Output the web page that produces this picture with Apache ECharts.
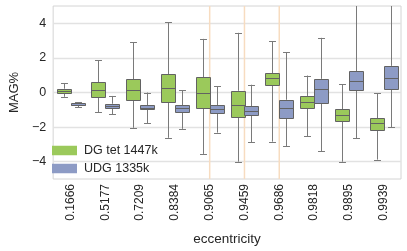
<!DOCTYPE html>
<html><head><meta charset="utf-8">
<script src="https://cdn.jsdelivr.net/npm/echarts@6/dist/echarts.min.js"></script>
<style>html,body{margin:0;padding:0;background:#fff}#c{width:407px;height:251px}</style>
</head><body><div id="c"></div>
<script>
const categories = ['0.1666','0.5177','0.7209','0.8384','0.9065','0.9459','0.9686','0.9818','0.9895','0.9939'];
// [min, Q1, median, Q3, max]
const dgStats = [
  [-0.25, 0.0, 0.1, 0.22, 0.55],
  [-1.13, -0.29, 0.14, 0.59, 1.87],
  [-2.04, -0.42, 0.14, 0.78, 2.9],
  [-2.62, -0.55, 0.27, 1.05, 4.05],
  [-3.55, -0.89, 0.0, 0.88, 3.1],
  [-4.0, -1.39, -0.74, 0.1, 3.45],
  [-2.84, 0.42, 0.83, 1.12, 2.97],
  [-2.53, -0.89, -0.53, -0.2, 0.98],
  [-4.0, -1.66, -1.28, -0.98, 0.47],
  [-3.88, -2.15, -1.76, -1.48, -0.05]
];
const udgStats = [
  [-0.85, -0.75, -0.7, -0.63, -0.55],
  [-1.26, -0.88, -0.78, -0.65, -0.2],
  [-1.78, -1.0, -0.87, -0.74, 0.0],
  [-2.1, -1.17, -0.92, -0.75, 0.14],
  [-2.32, -1.24, -0.98, -0.75, 0.36],
  [-2.88, -1.31, -1.07, -0.79, 0.45],
  [-3.12, -1.45, -0.87, -0.42, 2.34],
  [-3.4, -0.6, 0.23, 0.79, 3.16],
  [-2.65, 0.14, 0.66, 1.22, 5.6],
  [-2.0, 0.23, 0.81, 1.54, 5.6]
];
const seriesNames = ['DG tet 1447k', 'UDG 1335k'];
const markedCategories = ['0.9065', '0.9459', '0.9686'];
const yTicks = [-4, -2, 0, 2, 4];

const FONT = 'Liberation Sans, Arial, sans-serif';
const TEXT = '#262626';
const GREEN = '#9bc95b';
const BLUE = '#8d9bc5';
const EDGE = '#626262';
const WHISK = '#7a7a7a';

function boxRenderer(offset, fill) {
  return function (params, api) {
    const i = api.value(0);
    const band = api.size([1, 0])[0];
    const cs = params.coordSys;
    const top = cs.y, bottom = cs.y + cs.height;
    const cx = api.coord([i, 0])[0] + offset * band;
    const w = band * 0.4;
    const capW = w * 0.5;
    const y = k => api.coord([i, api.value(k)])[1];
    const yMin = y(1), yQ1 = y(2), yMed = y(3), yQ3 = y(4), yMax = y(5);
    const clampY = v => Math.min(Math.max(v, top), bottom);
    const px = v => Math.round(v) + 0.5;
    const xc = px(cx);
    const wl = { stroke: WHISK, lineWidth: 1 };
    const ch = [];
    ch.push({ type: 'line', shape: { x1: xc, y1: clampY(yQ3), x2: xc, y2: clampY(yMax) }, style: wl });
    if (yMax >= top) ch.push({ type: 'line', shape: { x1: xc - capW / 2, y1: px(yMax), x2: xc + capW / 2, y2: px(yMax) }, style: wl });
    ch.push({ type: 'line', shape: { x1: xc, y1: clampY(yQ1), x2: xc, y2: clampY(yMin) }, style: wl });
    if (yMin <= bottom) ch.push({ type: 'line', shape: { x1: xc - capW / 2, y1: px(yMin), x2: xc + capW / 2, y2: px(yMin) }, style: wl });
    const bx = px(cx - w / 2), bw = Math.round(w);
    ch.push({ type: 'rect', shape: { x: bx, y: px(yQ3), width: bw, height: Math.max(1, Math.round(yQ1 - yQ3)) }, style: { fill: fill, stroke: EDGE, lineWidth: 1 } });
    ch.push({ type: 'line', shape: { x1: bx, y1: px(yMed), x2: bx + bw, y2: px(yMed) }, style: { stroke: EDGE, lineWidth: 1 } });
    return { type: 'group', children: ch };
  };
}

function vlineRenderer(params, api) {
  const cs = params.coordSys;
  const x = api.coord([api.value(0), 0])[0];
  return { type: 'line', shape: { x1: x, y1: cs.y, x2: x, y2: cs.y + cs.height }, style: { stroke: '#f7dcc0', lineWidth: 1.5 } };
}

const chart = echarts.init(document.getElementById('c'), null, { renderer: 'canvas' });
chart.setOption({
  animation: false,
  backgroundColor: '#fff',
  textStyle: { fontFamily: FONT },
  grid: { left: 42, right: 6, top: 6, bottom: 65, show: true, borderColor: '#d4d4d4', borderWidth: 1, backgroundColor: '#fff' },
  legend: {
    orient: 'vertical', left: 52, top: 143.5, padding: 0,
    itemWidth: 25, itemHeight: 9.5, itemGap: 4, icon: 'rect',
    data: seriesNames,
    textStyle: { fontFamily: FONT, fontSize: 12.5, color: TEXT, lineHeight: 14, padding: [0, 0, 0, 2] }
  },
  xAxis: {
    type: 'category', data: categories, boundaryGap: true,
    axisLine: { show: false }, axisTick: { show: false }, splitLine: { show: false },
    axisLabel: { rotate: 90, margin: 5, fontSize: 12, color: TEXT, fontFamily: FONT, interval: 0 },
    name: 'eccentricity', nameLocation: 'middle', nameGap: 53,
    nameTextStyle: { fontSize: 13.5, color: TEXT, fontFamily: FONT }
  },
  yAxis: {
    type: 'value', min: -5, max: 5,
    axisLine: { show: false },
    axisTick: { show: false, customValues: yTicks },
    axisLabel: { customValues: yTicks, fontSize: 12.5, color: TEXT, fontFamily: FONT, margin: 7,
      formatter: v => String(v).replace('-', '\u2212') },
    splitLine: { show: true, lineStyle: { color: '#e2e2e2', width: 1.3 } },
    name: 'MAG%', nameLocation: 'middle', nameGap: 27, nameRotate: 90,
    nameTextStyle: { fontSize: 13, color: TEXT, fontFamily: FONT }
  },
  series: [
    { type: 'custom', name: 'marks', z: 1, silent: true,
      data: markedCategories.map(c => [categories.indexOf(c)]),
      encode: { x: 0 }, renderItem: vlineRenderer },
    { type: 'custom', name: seriesNames[0], z: 2, itemStyle: { color: GREEN },
      data: dgStats.map((s, i) => [i].concat(s)),
      encode: { x: 0, y: [1, 2, 3, 4, 5] }, renderItem: boxRenderer(-0.2, GREEN) },
    { type: 'custom', name: seriesNames[1], z: 2, itemStyle: { color: BLUE },
      data: udgStats.map((s, i) => [i].concat(s)),
      encode: { x: 0, y: [1, 2, 3, 4, 5] }, renderItem: boxRenderer(0.2, BLUE) }
  ]
});
</script>
</body></html>
